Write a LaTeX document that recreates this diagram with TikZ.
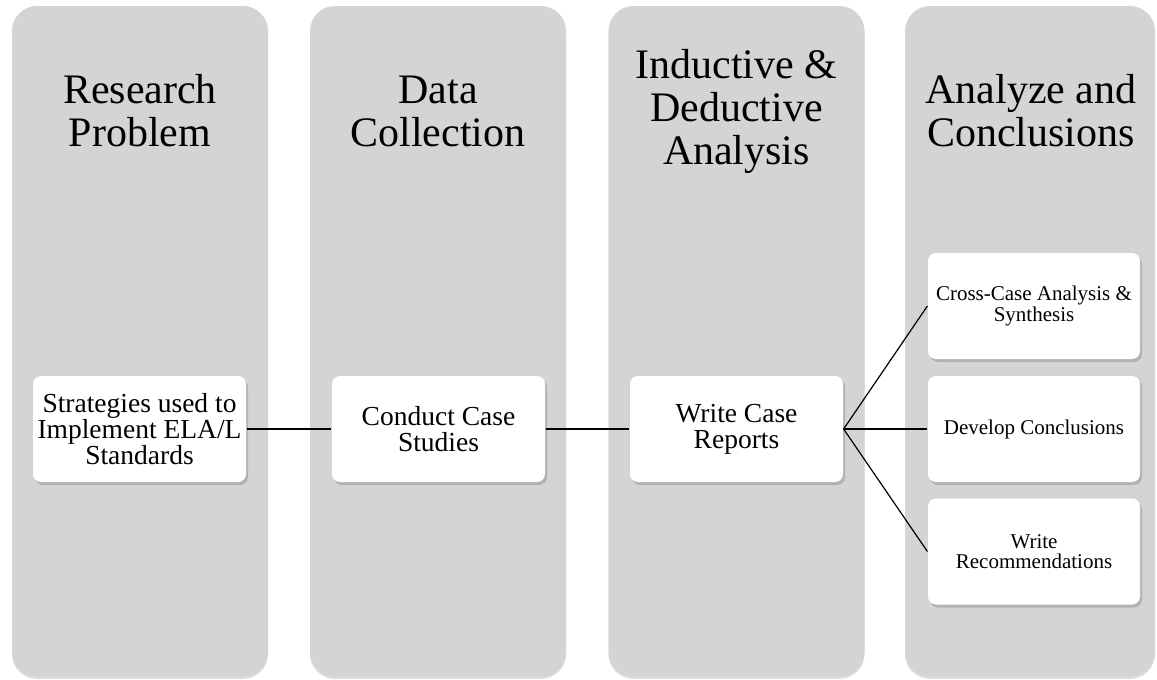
\documentclass[tikz,border=0pt]{standalone}
\usepackage{fontspec}
\setmainfont{Liberation Serif}
\usetikzlibrary{shadows}
\definecolor{colgray}{RGB}{212,212,212}

\begin{document}
\begin{tikzpicture}[x=1pt,y=-1pt
  ,line width=1.2pt
  ,every node/.style={align=center}]
  \tikzstyle{phase}=[rectangle,rounded corners=25pt,fill=colgray
  ,minimum width=256pt,minimum height=671pt,inner sep=0pt
  ,drop shadow={shadow xshift=0pt,shadow yshift=-2pt,opacity=0.25}]
  \tikzstyle{title}=[font=\fontsize{42}{43}\selectfont]
  \tikzstyle{stepbox}=[rectangle,rounded corners=8pt,fill=white
  ,minimum width=213pt,minimum height=106pt,inner sep=0pt
  ,font=\fontsize{27.5}{26}\selectfont
  ,drop shadow={shadow xshift=2pt,shadow yshift=-3pt,opacity=0.4}]
  \tikzstyle{endbox}=[stepbox,minimum width=212pt
  ,font=\fontsize{21}{20.5}\selectfont]

  \useasboundingbox (0,0) rectangle (1157,680);

  % columns
  \node[phase] (c1) at (140,341.5) {};
  \node[phase] (c2) at (438,341.5) {};
  \node[phase] (c3) at (736.5,341.5) {};
  \node[phase,minimum width=250pt] (c4) at (1030,341.5) {};

  \node[title] (t1) at (140,111)    {Research\\Problem};
  \node[title] (t2) at (438,111)    {Data\\Collection};
  \node[title] (t3) at (736.5,111)  {Inductive \&\\Deductive\\Analysis};
  \node[title] (t4) at (1031,111)   {Analyze and\\Conclusions};

  % boxes
  \node[stepbox] (s1) at (139.5,429) {Strategies used to\\Implement ELA/L\\Standards};
  \node[stepbox] (s2) at (438.5,429) {Conduct Case\\Studies};
  \node[stepbox] (s3) at (736.5,429) {Write Case\\Reports};

  \node[endbox] (a1) at (1034,306)   {Cross-Case Analysis \&\\Synthesis};
  \node[endbox] (a2) at (1034,429)   {Develop Conclusions};
  \node[endbox] (a3) at (1034,551.5) {Write\\Recommendations};

  \path
  (s1) edge (s2)
  (s2) edge (s3)
  (s3.east) edge (a1.west)
  (s3.east) edge (a2.west)
  (s3.east) edge (a3.west)
  ;

\end{tikzpicture}
\end{document}
